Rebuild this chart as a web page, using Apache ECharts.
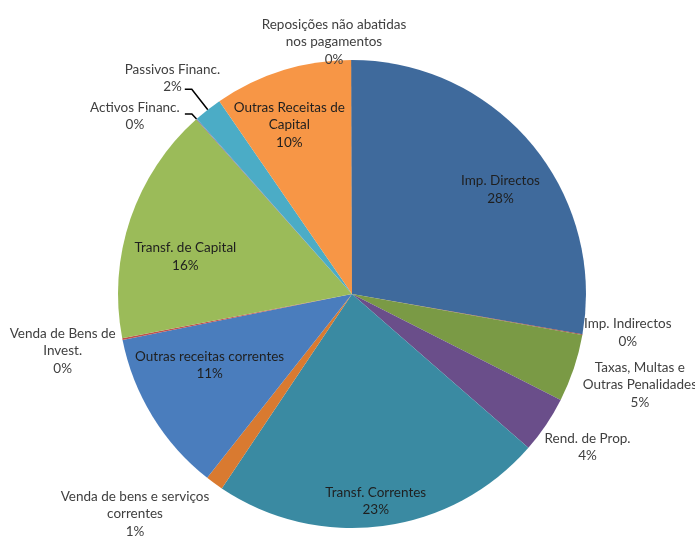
<!DOCTYPE html>
<html>
<head>
<meta charset="utf-8">
<script src="https://cdn.jsdelivr.net/npm/echarts@6/dist/echarts.min.js"></script>
<style>
  html, body { margin: 0; padding: 0; background: #fff; }
  #chart { width: 695px; height: 536px; }
</style>
</head>
<body>
<div id="chart"></div>
<script>
// receitas - categorias e pesos (%)
var categories = [
  'Imp. Directos',
  'Imp. Indirectos',
  'Taxas, Multas e\nOutras Penalidades',
  'Rend. de Prop.',
  'Transf. Correntes',
  'Venda de bens e serviços\ncorrentes',
  'Outras receitas correntes',
  'Venda de Bens de\nInvest.',
  'Transf. de Capital',
  'Activos Financ.',
  'Passivos Financ.',
  'Outras Receitas de\nCapital',
  'Reposições não abatidas\nnos pagamentos'
]
var values = [27.78, 0.05, 4.67, 3.94, 23.0, 1.23, 11.24, 0.12, 16.45, 0.05, 1.95, 9.55, 0.05]
var colors = ['#3F6A9C', '#953735', '#7A9A45', '#6A4E8A', '#3A8AA2', '#D97A30', '#4A7DBD',
  '#C0504D', '#9BBB59', '#8064A2', '#4BACC6', '#F79646', '#2C4D75']

// onde fica cada rótulo: distância ao centro (fracção do raio) e desvio angular (graus)
var labelDist = [0.775, 1.19, 1.29, 1.2, 0.89, 1.32, 0.68, 1.26, 0.73, 1.2, 1.2, 0.77, 1.08]
var labelTurn = [5, -2, -1, -1, 1, 8.6, 5, 0, -6, -9, -1.7, -3, -4]
var insideLabel = [true, false, false, false, true, false, true, false, true, false, false, true, false]
// segmentos da linha de chamada (comprimento radial, horizontal) - só Activos e Passivos
var leaderLine = { 9: [7, 7], 10: [26, 7] }

var cx = 352, cy = 294, radius = 234

var total = values.reduce(function (a, b) { return a + b }, 0)
var midAngle = []
var acc = 0
values.forEach(function (v) {
  midAngle.push((acc + v / 2) / total * 360)
  acc += v
})

function polar (deg, r) {
  var a = deg * Math.PI / 180
  return [cx + r * Math.sin(a), cy - r * Math.cos(a)]
}

var pieData = categories.map(function (name, i) {
  return {
    name: name,
    value: values[i],
    itemStyle: { color: colors[i] },
    label: { color: insideLabel[i] ? '#1f1f1f' : '#404040' },
    labelLine: { show: !!leaderLine[i] }
  }
})

var myChart = echarts.init(document.getElementById('chart'))
var option = {
  backgroundColor: '#fff',
  animation: false,
  series: [
    {
      type: 'pie',
      center: [cx, cy],
      radius: [0, radius],
      startAngle: 90,
      clockwise: true,
      avoidLabelOverlap: false,
      minShowLabelAngle: 0,
      itemStyle: { borderWidth: 0 },
      label: {
        show: true,
        position: 'outside',
        fontFamily: 'Lato, "Open Sans", sans-serif',
        fontSize: 13.5,
        lineHeight: 17.5,
        align: 'center',
        formatter: function (p) {
          return p.name + '\n' + Math.round(p.percent) + '%'
        }
      },
      labelLine: {
        show: false,
        lineStyle: { color: '#000', width: 1.5 }
      },
      labelLayout: function (p) {
        var i = p.dataIndex
        var pos = polar(midAngle[i] + labelTurn[i], labelDist[i] * radius)
        var out = {
          x: pos[0],
          y: pos[1] - p.labelRect.height / 2,
          align: 'center',
          verticalAlign: 'top'
        }
        var seg = leaderLine[i]
        if (seg) {
          var p0 = polar(midAngle[i], radius)
          var p1 = polar(midAngle[i], radius + seg[0])
          var p2 = [p1[0] - seg[1], p1[1]]
          out.labelLinePoints = [p0, p1, p2]
        }
        return out
      },
      data: pieData
    }
  ]
}
myChart.setOption(option, true)
</script>
</body>
</html>
